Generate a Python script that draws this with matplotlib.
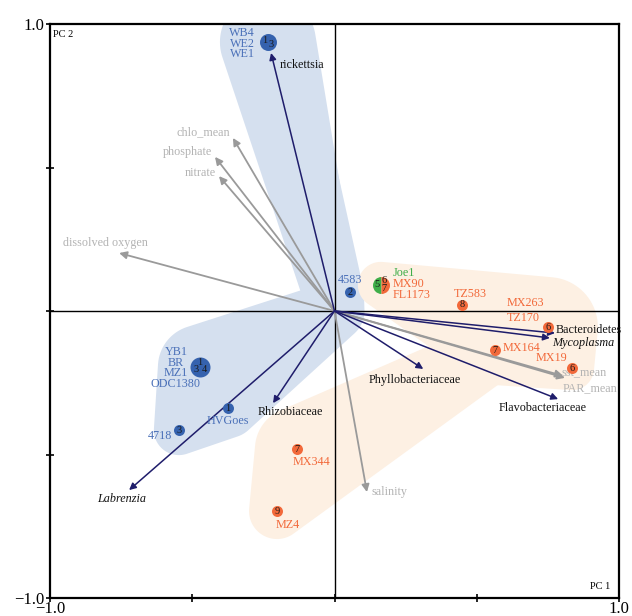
import matplotlib
matplotlib.use("Agg")
import matplotlib.pyplot as plt
from matplotlib.patches import Polygon
import numpy as np

plt.rcParams['font.family'] = ['Liberation Serif', 'DejaVu Serif']

# sample points (PCA scores)
site_labels = [["WB4", "WE2", "WE1"], ["4583"], ["YB1", "BR", "MZ1", "ODC1380"],
               ["HVGoes"], ["4718"], ["Joe1", "MX90", "FL1173"], ["TZ583"],
               ["MX263", "TZ170"], ["MX164"], ["MX19"], ["MX344"], ["MZ4"]]
site_groups = [["A"] * 3, ["A"], ["A"] * 4, ["A"], ["A"], ["C", "B", "B"], ["B"],
               ["B", "B"], ["B"], ["B"], ["B"], ["B"]]
site_ids = [["1", "3"], ["2"], ["1", "3", "4"], ["1"], ["3"], ["5", "6", "7"], ["8"],
            ["6"], ["7"], ["6"], ["7"], ["9"]]
pc1 = [-0.234, 0.054, -0.473, -0.374, -0.547, 0.163, 0.448, 0.750, 0.564, 0.835, -0.132, -0.202]
pc2 = [0.937, 0.066, -0.195, -0.338, -0.415, 0.091, 0.021, -0.056, -0.136, -0.199, -0.481, -0.697]

# taxa vectors
taxa = ["rickettsia", "Labrenzia", "Rhizobiaceae", "Phyllobacteriaceae",
        "Flavobacteriaceae", "Bacteroidetes", "Mycoplasma"]
taxa_italic = [False, True, False, False, False, False, True]
taxa_x = [-0.223, -0.722, -0.216, 0.312, 0.786, 0.775, 0.757]
taxa_y = [0.899, -0.624, -0.321, -0.202, -0.307, -0.077, -0.094]

# environmental vectors
env = ["chlo_mean", "phosphate", "nitrate", "dissolved oxygen", "salinity", "sst_mean", "PAR_mean"]
env_x = [-0.357, -0.420, -0.406, -0.757, 0.114, 0.803, 0.810]
env_y = [0.603, 0.537, 0.470, 0.202, -0.631, -0.226, -0.233]

# ---- styling / layout ----
pt_col = {"A": "#3562ae", "B": "#f2693a", "C": "#3fae49"}
txt_col = {"A": "#4a70b8", "B": "#f2693a", "C": "#3fae49"}
navy = "#1f1d6b"
grey = "#9a9a9a"
PX = 0.72  # pixels -> points at dpi 100

# label offsets in px: (dx, dy of first line, ha)
site_lab_pos = [(-13, 9, 'right'), (0, 12, 'center'), (-24, 15, 'center'), (0, -13, 'center'),
                (-7, -6, 'right'), (12, 12, 'left'), (8, 11, 'center'), (-41, 24, 'left'),
                (8, 2, 'left'), (-5, 10, 'right'), (-4, -13, 'left'), (-1, -14, 'left')]
line_step = [10.5, 0, 10.7, 0, 0, 11, 0, 15, 0, 0, 0, 0]
id_offs = {1: [(0, 0)], 2: [(-3, 2), (3, -2)], 3: [(0, 4), (-4, -3), (4, -3)]}
pie_offs = [(-4, 0), (3, 4), (3, -4)]
taxa_lab = [(9, -12, 'left'), (-7, -9, 'center'), (-15, -9, 'left'), (-8, -11, 'center'),
            (-15, -9, 'center'), (1, 3, 'left'), (2, -5, 'left')]
env_lab = [(-3, 6, 'right'), (-3, 5, 'right'), (-3, 3, 'right'), (-14, 10, 'center'),
           (5, 0, 'left'), (-1, 3, 'left'), (-2, -10, 'left')]

blue = "#d5e0ef"
orange = "#fdf0e3"
# envelopes: (colour, [(point index or None for the biplot origin, radius px), ...])
envelopes = [(blue, [(0, 48), (None, 26)]),
             (blue, [(0, 40), (1, 14)]),
             (blue, [(1, 14), (None, 30), (2, 42), (3, 30), (4, 25)]),
             (orange, [(5, 23), (6, 30), (7, 50), (9, 22), (8, 35)]),
             (orange, [(8, 30), (10, 42), (11, 28)])]


def hull(pts):
    pts = sorted(set(map(tuple, pts)))
    if len(pts) < 3:
        return pts

    def cross(o, a, b):
        return (a[0] - o[0]) * (b[1] - o[1]) - (a[1] - o[1]) * (b[0] - o[0])
    lo, up = [], []
    for p in pts:
        while len(lo) >= 2 and cross(lo[-2], lo[-1], p) <= 0:
            lo.pop()
        lo.append(p)
    for p in reversed(pts):
        while len(up) >= 2 and cross(up[-2], up[-1], p) <= 0:
            up.pop()
        up.append(p)
    return lo[:-1] + up[:-1]


def envelope(ax, members, color):
    t = np.linspace(0, 2 * np.pi, 90, endpoint=False)
    pts = []
    for i, r in members:
        xy = (0, 0) if i is None else (pc1[i], pc2[i])
        cx, cy = ax.transData.transform(xy)
        pts += list(zip(np.round(cx + r * np.cos(t), 3), np.round(cy + r * np.sin(t), 3)))
    h = np.array(hull(pts))
    h = ax.transData.inverted().transform(h)
    ax.add_patch(Polygon(h, closed=True, facecolor=color, edgecolor='none', zorder=0))


fig = plt.figure(figsize=(6.32, 6.16), dpi=100)
ax = fig.add_axes([50 / 632, 1 - 598 / 616, 569 / 632, 574 / 616])
ax.set_xlim(-1, 1)
ax.set_ylim(-1, 1)

for col, members in envelopes:
    envelope(ax, members, col)

ax.axhline(0, color='black', lw=1, zorder=1)
ax.axvline(0, color='black', lw=1, zorder=1)

# vectors
for x, y in zip(env_x, env_y):
    ax.annotate("", xy=(x, y), xytext=(0, 0), zorder=2,
                arrowprops=dict(arrowstyle='-|>', color=grey, lw=1.3, mutation_scale=11,
                                shrinkA=0, shrinkB=0))
for x, y in zip(taxa_x, taxa_y):
    ax.annotate("", xy=(x, y), xytext=(0, 0), zorder=3,
                arrowprops=dict(arrowstyle='-|>', color=navy, lw=1.1, mutation_scale=10,
                                shrinkA=0, shrinkB=0))
for name, x, y, (dx, dy, ha) in zip(env, env_x, env_y, env_lab):
    ax.annotate(name, (x, y), xytext=(dx * PX, dy * PX), textcoords='offset points',
                ha=ha, va='center', fontsize=8.7, color='#b3b3b3', zorder=4)
for name, it, x, y, (dx, dy, ha) in zip(taxa, taxa_italic, taxa_x, taxa_y, taxa_lab):
    ax.annotate(name, (x, y), xytext=(dx * PX, dy * PX), textcoords='offset points',
                ha=ha, va='center', fontsize=8.7, color='#111111',
                style='italic' if it else 'normal', zorder=6)

# sample points
sizes = {1: 11, 2: 11, 3: 17, 4: 20}
for i in range(len(pc1)):
    grps = site_groups[i]
    d = sizes[len(grps)] * PX
    if len(set(grps)) > 1:
        ax.plot(pc1[i], pc2[i], 'o', ms=d, fillstyle='left', markerfacecolor=pt_col["C"],
                markerfacecoloralt=pt_col["B"], markeredgewidth=0, zorder=5)
        offs = pie_offs
    else:
        ax.plot(pc1[i], pc2[i], 'o', ms=d, color=pt_col[grps[0]], markeredgewidth=0, zorder=5)
        offs = id_offs[len(site_ids[i])]
    for s, (ox, oy) in zip(site_ids[i], offs):
        ax.annotate(s, (pc1[i], pc2[i]), xytext=(ox * PX, oy * PX), textcoords='offset points',
                    ha='center', va='center', fontsize=7.5, color='#1a1a1a', zorder=6)
    dx, dy, ha = site_lab_pos[i]
    for k, (lab, g) in enumerate(zip(site_labels[i], grps)):
        ax.annotate(lab, (pc1[i], pc2[i]), xytext=(dx * PX, (dy - k * line_step[i]) * PX),
                    textcoords='offset points', ha=ha, va='center', fontsize=8.7,
                    color=txt_col[g], zorder=6)

# axes furniture
ax.set_xticks([-1, -0.5, 0, 0.5, 1])
ax.set_yticks([-1, -0.5, 0, 0.5, 1])
ax.set_xticklabels(["\u22121.0", "", "", "", "1.0"])
ax.set_yticklabels(["\u22121.0", "", "", "", "1.0"])
ax.tick_params(direction='inout', length=6, width=1.2, labelsize=12)
ax.tick_params(axis='x', pad=-1)
ax.tick_params(axis='y', pad=1)
for sp in ax.spines.values():
    sp.set_linewidth(1.6)
ax.text(0.005, 0.99, "PC 2", transform=ax.transAxes, ha='left', va='top', fontsize=7.5)
ax.text(0.985, 0.012, "PC 1", transform=ax.transAxes, ha='right', va='bottom', fontsize=7.5)

fig.savefig("out.png", dpi=100)
